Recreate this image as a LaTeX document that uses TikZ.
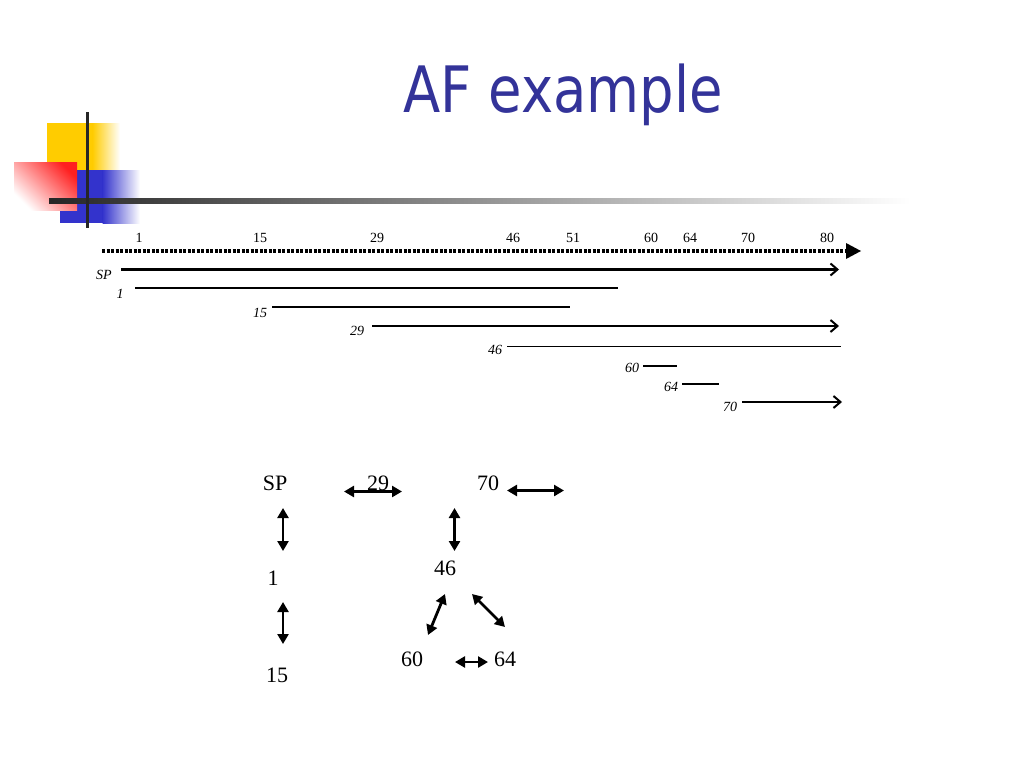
\documentclass[tikz,border=0pt]{standalone}
\usepackage{fontspec}
\setmainfont{Liberation Serif}
\newfontfamily\titlefont[FakeStretch=0.85]{DejaVu Sans}
\usetikzlibrary{arrows.meta}
\definecolor{titleblue}{HTML}{333399}
\definecolor{decoyellow}{HTML}{FFCC00}
\definecolor{decoblue}{HTML}{3333CC}
\definecolor{decored}{HTML}{FF2020}
\begin{document}
\begin{tikzpicture}[x=1pt,y=-1pt,
  tick/.style={font=\fontsize{14}{14}\selectfont, inner sep=0pt},
  lab/.style={font=\fontsize{14}{14}\selectfont\itshape, inner sep=0pt},
  thickline/.style={line width=2.6pt, -{Straight Barb[length=7pt,width=12pt,line width=2pt]}},
  thinline/.style={line width=1.5pt},
  gnode/.style={font=\fontsize{22}{22}\selectfont, inner sep=0pt},
  garrow/.style={line width=2.8pt, {Triangle[length=10pt,width=11pt]}-{Triangle[length=10pt,width=11pt]}}
]
\useasboundingbox (0,0) rectangle (1024,768);
% decoration
\fill[decoyellow] (47,123) rectangle (93,170);
\shade[left color=decoyellow, right color=white] (92.5,123) rectangle (120,170);
\fill[decoblue] (60,170) rectangle (103,223);
\shade[left color=decoblue, right color=white] (102.5,170) rectangle (140,223);
\shade[top color=decored, bottom color=white, shading angle=-45] (14,162) rectangle (77,210);
\shade[left color=black!85, right color=white] (49,198.5) rectangle (910,203.5);
\draw[line width=3pt, black!85] (87,112) -- (87,228);
% title
\node[font=\titlefont\fontsize{64}{64}\selectfont, text=titleblue, inner sep=0pt, anchor=base] (title) at (563,112) {AF example};
% axis
\coordinate (axS) at (102,251);
\coordinate (axE) at (848,251);
\draw[line width=4pt, dash pattern=on 3pt off 1.5pt] (axS) -- (axE);
\fill (846,243) -- (861,251) -- (846,259) -- cycle;
\foreach \v/\x in {1/139,15/260,29/377,46/513,51/573,60/651,64/690,70/748,80/827}
  \node[tick] (t\v) at (\x,238) {\v};
% segments
\node[lab] (lSP) at (104,275) {SP};
\draw[thickline] (121,269.5) -- (839,269.5);
\node[lab] (l1) at (120,294) {1};
\draw[thinline] (135,288) -- (618,288);
\node[lab] (l15) at (260,313) {15};
\draw[thinline] (272,307) -- (570,307);
\node[lab] (l29) at (357,331) {29};
\draw[thickline] (372,326) -- (839,326);
\node[lab] (l46) at (495,350) {46};
\draw[thinline] (507,346.5) -- (841,346.5);
\node[lab] (l60) at (632,368) {60};
\draw[thinline] (643,366) -- (677,366);
\node[lab] (l64) at (671,387) {64};
\draw[thinline] (682,384) -- (719,384);
\node[lab] (l70) at (730,407) {70};
\draw[thickline] (742,402) -- (842,402);
% graph
\node[gnode] (SP) at (275,483) {SP};
\node[gnode] (n29) at (378,483) {29};
\node[gnode] (n70) at (488,483) {70};
\node[gnode] (n1) at (273,578) {1};
\node[gnode] (n15) at (277,675) {15};
\node[gnode] (n46) at (445,568) {46};
\node[gnode] (n60) at (412,659) {60};
\node[gnode] (n64) at (505,659) {64};
\coordinate (a1) at (344,491.5); \coordinate (a2) at (402,491.5);
\coordinate (b1) at (507,490.5); \coordinate (b2) at (564,490.5);
\coordinate (c1) at (283,508); \coordinate (c2) at (283,551);
\coordinate (d1) at (283,602); \coordinate (d2) at (283,644);
\coordinate (e1) at (454.5,508); \coordinate (e2) at (454.5,551);
\coordinate (f1) at (445,594); \coordinate (f2) at (428,635);
\coordinate (g1) at (472,594); \coordinate (g2) at (505,627);
\coordinate (h1) at (455,662); \coordinate (h2) at (488,662);
\draw[garrow] (a1) -- (a2);
\draw[garrow] (b1) -- (b2);
\draw[garrow] (c1) -- (c2);
\draw[garrow] (d1) -- (d2);
\draw[garrow] (e1) -- (e2);
\draw[garrow] (f1) -- (f2);
\draw[garrow] (g1) -- (g2);
\draw[garrow] (h1) -- (h2);
\end{tikzpicture}
\end{document}
